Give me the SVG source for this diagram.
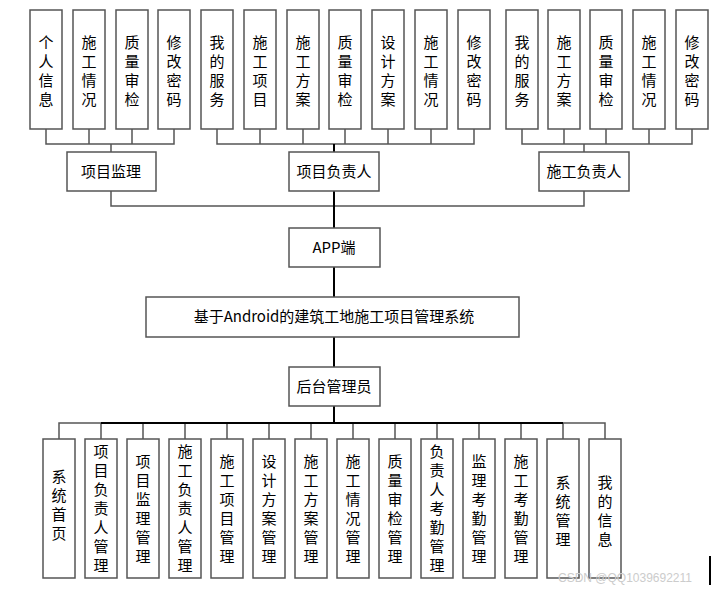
<svg xmlns="http://www.w3.org/2000/svg" width="715" height="590" viewBox="0 0 715 590">
<style>
rect{fill:#fff;stroke:#555;stroke-width:1.5}
text{font-family:"Noto Sans CJK SC","Liberation Sans",sans-serif;font-size:15px;fill:#000;text-anchor:middle}
.c path{fill:none;stroke:#555;stroke-width:1.5}
.c .m{stroke:#000;stroke-width:2}
</style>
<rect width="715" height="590" style="fill:#fff;stroke:none"/>
<g class="c">
<path d="M46 129V144H174V129M89 129V144M132 129V144M111 144V152"/>
<path d="M217 129V144H474V129M260 129V144M303 129V144M345 129V144M388 129V144M431 129V144"/>
<path d="M522 129V144H692V129M564 129V144M606 129V144M649 129V144M584 144V152"/>
<path d="M111 191V206H584V191"/>
<path class="m" d="M334 144V152M334 191V228M334 267V297M334 337V367M334 406V423"/>
<path d="M59 439V423H605V439M101 423V439M143 423V439M185 423V439M227 423V439M269 423V439M311 423V439M353 423V439M395 423V439M437 423V439M479 423V439M521 423V439M563 423V439"/>
<path class="m" d="M101 423H563"/>
</g>
<g id="top">
<g id="t1"><rect x="30" y="10" width="32" height="119"/><text x="46" y="48">个</text><text x="46" y="67">人</text><text x="46" y="86">信</text><text x="46" y="105">息</text></g>
<g id="t2"><rect x="73" y="10" width="32" height="119"/><text x="89" y="48">施</text><text x="89" y="67">工</text><text x="89" y="86">情</text><text x="89" y="105">况</text></g>
<g id="t3"><rect x="116" y="10" width="32" height="119"/><text x="132" y="48">质</text><text x="132" y="67">量</text><text x="132" y="86">审</text><text x="132" y="105">检</text></g>
<g id="t4"><rect x="158" y="10" width="32" height="119"/><text x="174" y="48">修</text><text x="174" y="67">改</text><text x="174" y="86">密</text><text x="174" y="105">码</text></g>
<g id="t5"><rect x="201" y="10" width="32" height="119"/><text x="217" y="48">我</text><text x="217" y="67">的</text><text x="217" y="86">服</text><text x="217" y="105">务</text></g>
<g id="t6"><rect x="244" y="10" width="32" height="119"/><text x="260" y="48">施</text><text x="260" y="67">工</text><text x="260" y="86">项</text><text x="260" y="105">目</text></g>
<g id="t7"><rect x="287" y="10" width="32" height="119"/><text x="303" y="48">施</text><text x="303" y="67">工</text><text x="303" y="86">方</text><text x="303" y="105">案</text></g>
<g id="t8"><rect x="329" y="10" width="32" height="119"/><text x="345" y="48">质</text><text x="345" y="67">量</text><text x="345" y="86">审</text><text x="345" y="105">检</text></g>
<g id="t9"><rect x="372" y="10" width="32" height="119"/><text x="388" y="48">设</text><text x="388" y="67">计</text><text x="388" y="86">方</text><text x="388" y="105">案</text></g>
<g id="t10"><rect x="415" y="10" width="32" height="119"/><text x="431" y="48">施</text><text x="431" y="67">工</text><text x="431" y="86">情</text><text x="431" y="105">况</text></g>
<g id="t11"><rect x="458" y="10" width="32" height="119"/><text x="474" y="48">修</text><text x="474" y="67">改</text><text x="474" y="86">密</text><text x="474" y="105">码</text></g>
<g id="t12"><rect x="506" y="10" width="32" height="119"/><text x="522" y="48">我</text><text x="522" y="67">的</text><text x="522" y="86">服</text><text x="522" y="105">务</text></g>
<g id="t13"><rect x="548" y="10" width="32" height="119"/><text x="564" y="48">施</text><text x="564" y="67">工</text><text x="564" y="86">方</text><text x="564" y="105">案</text></g>
<g id="t14"><rect x="590" y="10" width="32" height="119"/><text x="606" y="48">质</text><text x="606" y="67">量</text><text x="606" y="86">审</text><text x="606" y="105">检</text></g>
<g id="t15"><rect x="633" y="10" width="32" height="119"/><text x="649" y="48">施</text><text x="649" y="67">工</text><text x="649" y="86">情</text><text x="649" y="105">况</text></g>
<g id="t16"><rect x="676" y="10" width="32" height="119"/><text x="692" y="48">修</text><text x="692" y="67">改</text><text x="692" y="86">密</text><text x="692" y="105">码</text></g>
</g>
<g id="n-jl"><rect x="67" y="152" width="89" height="39"/><text x="111" y="177">项目监理</text></g>
<g id="n-fz"><rect x="289" y="152" width="90" height="39"/><text x="334" y="177">项目负责人</text></g>
<g id="n-sg"><rect x="539" y="152" width="90" height="39"/><text x="584" y="177">施工负责人</text></g>
<g id="n-app"><rect x="289" y="228" width="91" height="39"/><text x="334" y="253">APP端</text></g>
<g id="n-sys"><rect x="146" y="297" width="373" height="40"/><text x="334" y="322">基于Android的建筑工地施工项目管理系统</text></g>
<g id="n-admin"><rect x="289" y="367" width="91" height="39"/><text x="334" y="392">后台管理员</text></g>
<g id="bottom">
<g><rect x="43" y="439" width="32" height="139"/><text x="59" y="482">系</text><text x="59" y="501">统</text><text x="59" y="520">首</text><text x="59" y="539">页</text></g>
<g><rect x="85" y="439" width="32" height="139"/><text x="101" y="457">项</text><text x="101" y="476">目</text><text x="101" y="495">负</text><text x="101" y="514">责</text><text x="101" y="533">人</text><text x="101" y="552">管</text><text x="101" y="571">理</text></g>
<g><rect x="127" y="439" width="32" height="139"/><text x="143" y="467">项</text><text x="143" y="486">目</text><text x="143" y="505">监</text><text x="143" y="524">理</text><text x="143" y="543">管</text><text x="143" y="562">理</text></g>
<g><rect x="169" y="439" width="32" height="139"/><text x="185" y="457">施</text><text x="185" y="476">工</text><text x="185" y="495">负</text><text x="185" y="514">责</text><text x="185" y="533">人</text><text x="185" y="552">管</text><text x="185" y="571">理</text></g>
<g><rect x="211" y="439" width="32" height="139"/><text x="227" y="467">施</text><text x="227" y="486">工</text><text x="227" y="505">项</text><text x="227" y="524">目</text><text x="227" y="543">管</text><text x="227" y="562">理</text></g>
<g><rect x="253" y="439" width="32" height="139"/><text x="269" y="467">设</text><text x="269" y="486">计</text><text x="269" y="505">方</text><text x="269" y="524">案</text><text x="269" y="543">管</text><text x="269" y="562">理</text></g>
<g><rect x="295" y="439" width="32" height="139"/><text x="311" y="467">施</text><text x="311" y="486">工</text><text x="311" y="505">方</text><text x="311" y="524">案</text><text x="311" y="543">管</text><text x="311" y="562">理</text></g>
<g><rect x="337" y="439" width="32" height="139"/><text x="353" y="467">施</text><text x="353" y="486">工</text><text x="353" y="505">情</text><text x="353" y="524">况</text><text x="353" y="543">管</text><text x="353" y="562">理</text></g>
<g><rect x="379" y="439" width="32" height="139"/><text x="395" y="467">质</text><text x="395" y="486">量</text><text x="395" y="505">审</text><text x="395" y="524">检</text><text x="395" y="543">管</text><text x="395" y="562">理</text></g>
<g><rect x="421" y="439" width="32" height="139"/><text x="437" y="457">负</text><text x="437" y="476">责</text><text x="437" y="495">人</text><text x="437" y="514">考</text><text x="437" y="533">勤</text><text x="437" y="552">管</text><text x="437" y="571">理</text></g>
<g><rect x="463" y="439" width="32" height="139"/><text x="479" y="467">监</text><text x="479" y="486">理</text><text x="479" y="505">考</text><text x="479" y="524">勤</text><text x="479" y="543">管</text><text x="479" y="562">理</text></g>
<g><rect x="505" y="439" width="32" height="139"/><text x="521" y="467">施</text><text x="521" y="486">工</text><text x="521" y="505">考</text><text x="521" y="524">勤</text><text x="521" y="543">管</text><text x="521" y="562">理</text></g>
<g><rect x="547" y="439" width="32" height="139"/><text x="563" y="488">系</text><text x="563" y="507">统</text><text x="563" y="526">管</text><text x="563" y="545">理</text></g>
<g><rect x="589" y="439" width="32" height="139"/><text x="605" y="488">我</text><text x="605" y="507">的</text><text x="605" y="526">信</text><text x="605" y="545">息</text></g>
</g>
<text x="625" y="582" style="font-size:12px;fill:#ccc;text-anchor:middle;font-family:'Liberation Sans',sans-serif">CSDN @QQ1039692211</text>
<path d="M710 556V585" stroke="#000" stroke-width="2"/>
</svg>
